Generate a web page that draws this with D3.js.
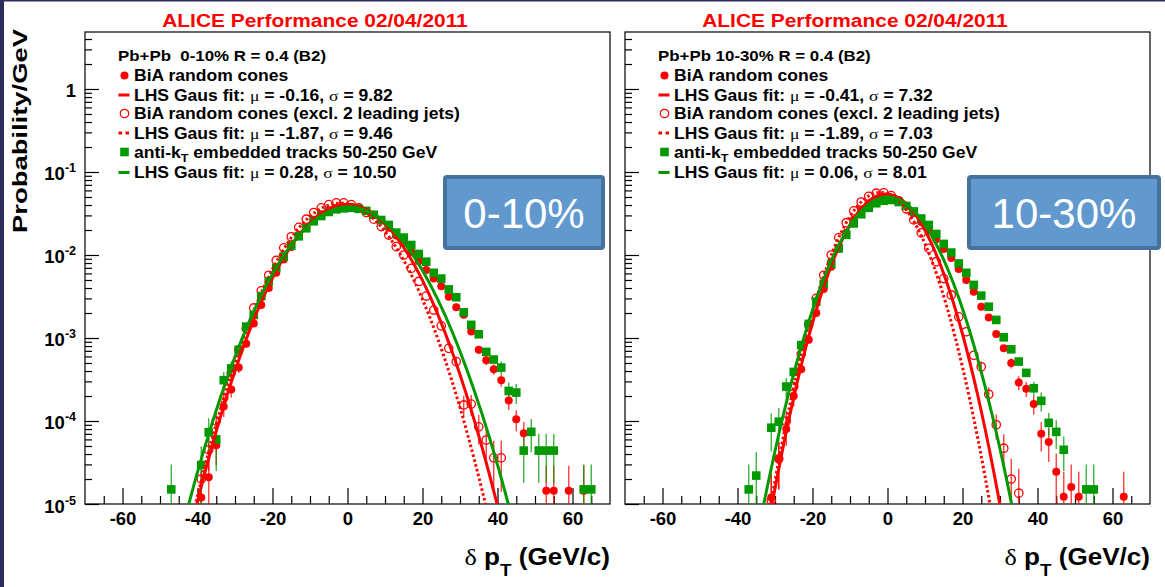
<!DOCTYPE html>
<html><head><meta charset="utf-8">
<script src="https://cdn.jsdelivr.net/npm/d3@7"></script>
<style>
body{margin:0;background:#fff;}
svg{display:block;}
text{font-family:"Liberation Sans",Arial,sans-serif;white-space:pre;}
</style>
</head><body>
<svg id="c" width="1165" height="587"></svg>
<script>
// ---------------- DATA ----------------
const bins = [-47,-45,-43,-41,-39,-37,-35,-33,-31,-29,-27,-25,-23,-21,-19,-17,-15,-13,-11,-9,-7,-5,-3,-1,1,3,5,7,9,11,13,15,17,19,21,23,25,27,29,31,33,35,37,39,41,43,45,47,49,51,53,55,57,59,61,63,65];

// 0-10% panel
const leftBiA  = [null,null,null,null,1.2e-5,2.1e-5,5.1e-5,1.5e-4,2.4e-4,4.4e-4,8.5e-4,1.5e-3,2.5e-3,4.0e-3,6.1e-3,8.8e-3,1.25e-2,1.68e-2,2.15e-2,2.65e-2,3.1e-2,3.45e-2,3.7e-2,3.8e-2,3.8e-2,3.65e-2,3.4e-2,3.05e-2,2.6e-2,2.15e-2,1.72e-2,1.38e-2,1.08e-2,8.4e-3,6.6e-3,5.2e-3,4.2e-3,3.15e-3,2.35e-3,1.9e-3,1.2e-3,7.2e-4,5.4e-4,4.2e-4,3.1e-4,1.76e-4,1.05e-4,7.1e-5,null,null,1.44e-5,1.44e-5,null,1.44e-5,null,1.44e-5,null];
const leftExcl = [null,null,null,null,2.0e-5,4.5e-5,1.0e-4,1.9e-4,3.8e-4,7.2e-4,1.3e-3,2.3e-3,3.7e-3,5.7e-3,8.6e-3,1.22e-2,1.66e-2,2.15e-2,2.7e-2,3.25e-2,3.7e-2,4.05e-2,4.25e-2,4.25e-2,4.05e-2,3.7e-2,3.25e-2,2.7e-2,2.2e-2,1.74e-2,1.26e-2,1.0e-2,6.9e-3,4.8e-3,3.2e-3,2.17e-3,1.4e-3,7.5e-4,5.2e-4,1.56e-4,1.6e-4,8.5e-5,5.9e-5,3.6e-5,3.6e-5,null,null,null,null,null,null,null,null,null,null,null,null];
const leftEmb  = [1.5e-5,null,null,null,2.95e-5,7.3e-5,6.0e-5,3.1e-4,4.3e-4,7.2e-4,1.37e-3,1.9e-3,3.2e-3,4.8e-3,7.0e-3,9.6e-3,1.3e-2,1.68e-2,2.1e-2,2.55e-2,2.95e-2,3.3e-2,3.55e-2,3.65e-2,3.7e-2,3.6e-2,3.4e-2,3.05e-2,2.64e-2,2.3e-2,1.86e-2,1.62e-2,1.32e-2,1.03e-2,8.3e-3,6.1e-3,5.2e-3,3.85e-3,3.1e-3,2.04e-3,1.44e-3,1.11e-3,6.8e-4,5.5e-4,4.4e-4,2.3e-4,2.2e-4,4.4e-5,7.4e-5,4.4e-5,4.4e-5,4.4e-5,null,null,null,1.5e-5,1.5e-5];
const leftBiAErr  = [[-39,1.2e-5],[-37,1.5e-5],[-35,2.2e-5],[-33,3.8e-5],[-31,4.8e-5],[-29,6e-5],[-27,8e-5],[33,1e-4],[35,8e-5],[37,7e-5],[39,6e-5],[41,5e-5],[43,4e-5],[45,3e-5],[47,2.6e-5],[53,1.44e-5],[55,1.44e-5],[59,1.44e-5],[63,1.44e-5]];
const leftExclErr = [[-39,1.4e-5],[-37,2e-5],[-35,3e-5],[-33,4.2e-5],[-31,6e-5],[29,7e-5],[31,4.5e-5],[33,4.5e-5],[35,3.3e-5],[37,2.8e-5],[39,2.2e-5],[41,2.2e-5]];
const leftEmbErr  = [[-47,1.5e-5],[-39,2e-5],[-37,3.5e-5],[-35,3.5e-5],[-33,8e-5],[-31,9e-5],[-29,1.1e-4],[41,8e-5],[43,6e-5],[45,6e-5],[47,2.6e-5],[49,3.2e-5],[51,2.6e-5],[53,2.6e-5],[55,2.6e-5],[63,1.5e-5],[65,1.5e-5]];

// 10-30% panel
const rightBiA  = [null,null,null,null,null,null,null,null,1.2e-5,3.5e-5,8.0e-5,2.0e-4,4.2e-4,9.5e-4,2.0e-3,3.9e-3,7.2e-3,1.2e-2,1.85e-2,2.65e-2,3.45e-2,4.15e-2,4.6e-2,4.8e-2,4.75e-2,4.45e-2,3.9e-2,3.2e-2,2.5e-2,1.95e-2,1.55e-2,1.18e-2,9.2e-3,6.8e-3,5.0e-3,3.6e-3,2.38e-3,1.77e-3,1.12e-3,7.5e-4,5.0e-4,2.9e-4,2.45e-4,1.6e-4,7.0e-5,5.6e-5,2.45e-5,1.22e-5,1.6e-5,1.22e-5,null,null,null,null,null,1.22e-5,null];
const rightExcl = [null,null,null,null,null,null,null,null,1.1e-5,3.5e-5,1.0e-4,2.6e-4,6.4e-4,1.45e-3,3.0e-3,5.7e-3,1.0e-2,1.62e-2,2.45e-2,3.4e-2,4.35e-2,5.1e-2,5.55e-2,5.6e-2,5.2e-2,4.5e-2,3.6e-2,2.65e-2,1.85e-2,1.2e-2,8.3e-3,5.2e-3,3.3e-3,1.8e-3,1.19e-3,6.2e-4,4.5e-4,2.1e-4,9.0e-5,4.7e-5,2.0e-5,1.35e-5,null,null,null,null,null,null,null,null,null,null,null,null,null,null,null];
const rightEmb  = [null,null,null,null,null,1.5e-5,2.2e-5,null,8.3e-5,9.8e-5,2.6e-4,3.9e-4,8.2e-4,1.48e-3,2.74e-3,4.5e-3,7.8e-3,1.2e-2,1.75e-2,2.4e-2,3.1e-2,3.7e-2,4.2e-2,4.5e-2,4.6e-2,4.35e-2,3.9e-2,3.35e-2,2.75e-2,2.3e-2,1.79e-2,1.36e-2,1.07e-2,7.9e-3,6.1e-3,4.36e-3,3.24e-3,2.38e-3,1.65e-3,1.02e-3,7.3e-4,5.2e-4,3.8e-4,2.48e-4,1.75e-4,9.5e-5,7.4e-5,4.5e-5,null,null,1.5e-5,1.5e-5,null,null,null,null,null];
const rightBiAErr  = [[-31,1.2e-5],[-29,2e-5],[-27,3e-5],[-25,5e-5],[33,7e-5],[35,5.5e-5],[37,5e-5],[39,4e-5],[41,2.7e-5],[43,2.4e-5],[45,1.6e-5],[47,1.22e-5],[49,1.4e-5],[51,1.22e-5],[63,1.22e-5]];
const rightExclErr = [[-31,1.1e-5],[-29,2e-5],[-27,3.3e-5],[25,7e-5],[27,4.5e-5],[29,3e-5],[31,2.2e-5],[33,1.5e-5],[35,1.3e-5]];
const rightEmbErr  = [[-37,1.5e-5],[-35,2e-5],[-31,4e-5],[-29,4.5e-5],[-27,7e-5],[39,5e-5],[41,4.5e-5],[43,3e-5],[45,2.8e-5],[47,2e-5],[53,1.5e-5],[55,1.5e-5]];

// fit curves
const fitX = [-44,-40,-36,-32,-28,-24,-20,-16,-12,-8,-4,0,4,8,12,16,20,24,28,32,36,40,44];
const leftFitBiA  = [1.9e-6,1.08e-5,5.2e-5,2.12e-4,7.3e-4,2.13e-3,5.27e-3,1.105e-2,1.963e-2,2.95e-2,3.76e-2,4.06e-2,3.71e-2,2.87e-2,1.886e-2,1.048e-2,4.94e-3,1.97e-3,6.65e-4,1.9e-4,4.6e-5,9.5e-6,1.65e-6];
const leftFitExcl = [2.1e-6,1.25e-5,6.3e-5,2.65e-4,9.3e-4,2.74e-3,6.73e-3,1.383e-2,2.378e-2,3.42e-2,4.11e-2,4.14e-2,3.48e-2,2.449e-2,1.44e-2,7.09e-3,2.92e-3,1.0e-3,2.89e-4,6.95e-5,1.4e-5,2.35e-6,3.3e-7];
const leftFitEmb  = [5.2e-6,2.42e-5,9.7e-5,3.37e-4,1.01e-3,2.62e-3,5.89e-3,1.143e-2,1.92e-2,2.786e-2,3.5e-2,3.8e-2,3.57e-2,2.9e-2,2.038e-2,1.24e-2,6.52e-3,2.96e-3,1.165e-3,3.96e-4,1.17e-4,2.97e-5,6.5e-6];
const rightFitBiA  = [1.1e-9,2.4e-8,4.0e-7,4.9e-6,4.48e-5,3.03e-4,1.52e-3,5.64e-3,1.556e-2,3.184e-2,4.83e-2,5.44e-2,4.55e-2,2.82e-2,1.295e-2,4.42e-3,1.117e-3,2.1e-4,2.92e-5,3.0e-6,2.3e-7,1.3e-8,5.5e-10];
const rightFitExcl = [9e-10,2.4e-8,4.4e-7,5.9e-6,5.74e-5,4.04e-4,2.06e-3,7.57e-3,2.02e-2,3.89e-2,5.43e-2,5.47e-2,3.996e-2,2.11e-2,8.06e-3,2.23e-3,4.45e-4,6.44e-5,6.7e-6,5.1e-7,2.8e-8,1.1e-9,3.2e-11];
const rightFitEmb  = [1.3e-8,1.8e-7,2.0e-6,1.65e-5,1.08e-4,5.47e-4,2.16e-3,6.67e-3,1.603e-2,3.0e-2,4.38e-2,4.98e-2,4.41e-2,3.05e-2,1.64e-2,6.87e-3,2.25e-3,5.72e-4,1.14e-4,1.75e-5,2.1e-6,2.0e-7,1.5e-8];

// axis ticks and texts
const xMajorTicks = [-60,-40,-20,0,20,40,60];
const xMinorTicks = [-65,-55,-50,-45,-35,-30,-25,-15,-10,-5,5,10,15,25,30,35,45,50,55,65];
const yDecades = [1,1e-1,1e-2,1e-3,1e-4,1e-5];
const yDecadeExp = ["", "-1","-2","-3","-4","-5"];
const yMinorMult = [2,3,4,5,6,7,8,9];
const titleText = "ALICE Performance 02/04/2011";
const leftLegend = ["Pb+Pb  0-10% R = 0.4 (B2)","BiA random cones","LHS Gaus fit: μ = -0.16, σ = 9.82","BiA random cones (excl. 2 leading jets)","LHS Gaus fit: μ = -1.87, σ = 9.46","anti-k_{T} embedded tracks 50-250 GeV","LHS Gaus fit: μ = 0.28, σ = 10.50"];
const rightLegend = ["Pb+Pb 10-30% R = 0.4 (B2)","BiA random cones","LHS Gaus fit: μ = -0.41, σ = 7.32","BiA random cones (excl. 2 leading jets)","LHS Gaus fit: μ = -1.89, σ = 7.03","anti-k_{T} embedded tracks 50-250 GeV","LHS Gaus fit: μ = 0.06, σ = 8.01"];
const centralityLabels = ["0-10%","10-30%"];
const yTitle = "Probability/GeV";
const xTitle = "δ p_{T} (GeV/c)";

// ---------------- DRAWING ----------------
const W = 1165, H = 587, YT = 32, YB = 504;
const RED = "#ff0000", GREEN = "#009900";
const SX = 1.125;
const svg = d3.select("#c");
svg.append("rect").attr("width", W).attr("height", H).attr("fill", "#fff");
svg.append("rect").attr("x", 0).attr("y", 0).attr("width", 4).attr("height", H).attr("fill", "#2c2f5e");
svg.append("rect").attr("x", 0).attr("y", 0).attr("width", W).attr("height", 1.5).attr("fill", "#2c2f5e");

function rich(sel, str, size, subShift) {
  const parts = str.split(/(_\{[^}]*\}|[μσδ])/).filter(s => s !== "");
  let pending = 0;
  parts.forEach(p => {
    if (p.startsWith("_{")) {
      sel.append("tspan").attr("font-size", size * 0.72).attr("dy", pending + subShift).text(p.slice(2, -1));
      pending = -subShift;
      return;
    }
    const t = sel.append("tspan").text(p);
    if (pending) { t.attr("dy", pending); pending = 0; }
    if ("μσδ".includes(p)) t.attr("font-family", "'Liberation Serif', serif").attr("font-weight", "normal");
  });
}

function stretchedText(g, x, y, anchor, size, sx) {
  return g.append("text").attr("transform", `translate(${x},${y}) scale(${sx},1)`)
    .attr("text-anchor", anchor).attr("font-size", size).attr("font-weight", "bold");
}

const panels = [
  {x0: 85, x1: 610, legend: leftLegend, label: centralityLabels[0], box: [445, 177, 158, 71], yLabels: true,
   series: [
     {vals: leftBiA, err: leftBiAErr, kind: "fcircle"},
     {vals: leftExcl, err: leftExclErr, kind: "ocircle"},
     {vals: leftEmb, err: leftEmbErr, kind: "square"}],
   fits: [{vals: leftFitBiA, color: RED, dash: null}, {vals: leftFitExcl, color: RED, dash: "2.5,2.5"}, {vals: leftFitEmb, color: GREEN, dash: null}]},
  {x0: 625, x1: 1150, legend: rightLegend, label: centralityLabels[1], box: [969, 177, 190, 71], yLabels: false,
   series: [
     {vals: rightBiA, err: rightBiAErr, kind: "fcircle"},
     {vals: rightExcl, err: rightExclErr, kind: "ocircle"},
     {vals: rightEmb, err: rightEmbErr, kind: "square"}],
   fits: [{vals: rightFitBiA, color: RED, dash: null}, {vals: rightFitExcl, color: RED, dash: "2.5,2.5"}, {vals: rightFitEmb, color: GREEN, dash: null}]}
];

function drawMarker(g, kind, cx, cy) {
  if (kind === "fcircle") g.append("circle").attr("cx", cx).attr("cy", cy).attr("r", 4).attr("fill", RED);
  else if (kind === "ocircle") g.append("circle").attr("cx", cx).attr("cy", cy).attr("r", 4.2).attr("fill", "none").attr("stroke", RED).attr("stroke-width", 1.3);
  else g.append("rect").attr("x", cx - 4.3).attr("y", cy - 4.3).attr("width", 8.6).attr("height", 8.6).attr("fill", GREEN);
}
const kindColor = {fcircle: RED, ocircle: RED, square: GREEN};

panels.forEach((P, pi) => {
  const x = d3.scaleLinear().domain([-70, 70]).range([P.x0, P.x1]);
  const y = d3.scaleLog().domain([1e-5, 4.86]).range([YB, YT]);
  const g = svg.append("g");
  const clipId = "clip" + pi;
  svg.append("clipPath").attr("id", clipId).append("rect")
    .attr("x", P.x0).attr("y", YT).attr("width", P.x1 - P.x0).attr("height", YB - YT);

  // title
  stretchedText(g, P.x0 + 230, 26.5, "middle", 19, 1.1).attr("fill", RED).text(titleText);

  // axes
  const gx = g.append("g").attr("transform", `translate(0,${YB})`)
    .call(d3.axisBottom(x).tickValues(xMajorTicks).tickSize(-16).tickPadding(8).tickFormat(d => String(d)));
  gx.select(".domain").remove();
  gx.attr("font-family", "'Liberation Sans',Arial,sans-serif").attr("font-size", 18.5).attr("font-weight", "bold");
  gx.selectAll("text").attr("fill", "#000");
  const gxm = g.append("g").attr("transform", `translate(0,${YB})`)
    .call(d3.axisBottom(x).tickValues(xMinorTicks).tickSize(-8).tickFormat(""));
  gxm.select(".domain").remove();

  const gy = g.append("g").attr("transform", `translate(${P.x0},0)`)
    .call(d3.axisLeft(y).tickValues(yDecades).tickSize(-14).tickFormat(""));
  gy.select(".domain").remove();
  const minors = [];
  yDecades.forEach(d => { yMinorMult.forEach(m => { if (d * m < 4.86) minors.push(d * m); }); });
  const gym = g.append("g").attr("transform", `translate(${P.x0},0)`)
    .call(d3.axisLeft(y).tickValues(minors).tickSize(-7).tickFormat(""));
  gym.select(".domain").remove();
  g.selectAll(".tick line").attr("stroke", "#000").attr("stroke-width", 1.2);

  if (P.yLabels) {
    yDecades.forEach((d, i) => {
      const t = g.append("text").attr("x", 76).attr("y", y(d) + 8.5).attr("text-anchor", "end")
        .attr("font-size", 18.5).attr("font-weight", "bold");
      if (yDecadeExp[i] === "") t.text("1");
      else {
        t.append("tspan").text("10");
        t.append("tspan").attr("font-size", 12.5).attr("dy", -8).text(yDecadeExp[i]);
      }
    });
    g.append("text").attr("transform", "translate(27,29) rotate(-90)").attr("text-anchor", "end")
      .attr("font-size", 20).attr("font-weight", "bold")
      .attr("textLength", 204).attr("lengthAdjust", "spacingAndGlyphs").text(yTitle);
  }

  // x title
  const xt = g.append("text").attr("transform", `translate(${P.x1},565) scale(1.11,1)`).attr("text-anchor", "end")
    .attr("font-size", 23.5).attr("font-weight", "bold");
  rich(xt, xTitle, 23.5, 11);

  // frame
  g.append("rect").attr("x", P.x0).attr("y", YT).attr("width", P.x1 - P.x0).attr("height", YB - YT)
    .attr("fill", "none").attr("stroke", "#000").attr("stroke-width", 1.2);

  // data
  const dg = g.append("g").attr("clip-path", `url(#${clipId})`);
  P.series.forEach(S => {
    const col = kindColor[S.kind];
    S.err.forEach(([b, e]) => {
      const v = S.vals[bins.indexOf(b)];
      if (v == null) return;
      const lo = v - e > 1e-6 ? y(v - e) : YB + 2;
      dg.append("line").attr("x1", x(b)).attr("x2", x(b)).attr("y1", y(v + e)).attr("y2", lo)
        .attr("stroke", col).attr("stroke-width", 1.4).attr("opacity", 0.75);
    });
  });
  P.series.forEach(S => {
    bins.forEach((b, i) => {
      const v = S.vals[i];
      if (v == null) return;
      drawMarker(dg, S.kind, x(b), y(v));
    });
  });
  // fits
  const line = d3.line().x((d, i) => x(fitX[i])).y(d => y(d)).curve(d3.curveNatural);
  P.fits.forEach(F => {
    dg.append("path").attr("d", line(F.vals)).attr("fill", "none").attr("stroke", F.color)
      .attr("stroke-width", 3).attr("stroke-dasharray", F.dash);
  });

  // legend
  const lx = P.x0 + 39.5, tx = P.x0 + 49;
  const rows = [55, 75.5, 95, 113.5, 133, 152, 172.5];
  P.legend.forEach((s, i) => {
    const px = i === 0 ? P.x0 + 33 : tx;
    const fs = i === 0 ? 15 : 15.6;
    const t = g.append("text").attr("x", px).attr("y", rows[i] + 5.6)
      .attr("font-size", fs).attr("font-weight", "bold")
      .attr("transform", `translate(${px * (1 - SX)},0) scale(${SX},1)`);
    rich(t, s, fs, 4);
  });
  const lg = g.append("g");
  drawMarker(lg, "fcircle", lx, rows[1]);
  lg.append("line").attr("x1", lx - 6).attr("x2", lx + 5).attr("y1", rows[2]).attr("y2", rows[2]).attr("stroke", RED).attr("stroke-width", 3);
  drawMarker(lg, "ocircle", lx, rows[3]);
  lg.append("line").attr("x1", lx - 6).attr("x2", lx + 5).attr("y1", rows[4]).attr("y2", rows[4]).attr("stroke", RED).attr("stroke-width", 3).attr("stroke-dasharray", "3.5,3.5");
  drawMarker(lg, "square", lx, rows[5]);
  lg.append("line").attr("x1", lx - 6).attr("x2", lx + 5).attr("y1", rows[6]).attr("y2", rows[6]).attr("stroke", GREEN).attr("stroke-width", 3);
});

// centrality boxes
panels.forEach(P => {
  const [bx, by, bw, bh] = P.box;
  svg.append("rect").attr("x", bx).attr("y", by).attr("width", bw).attr("height", bh).attr("rx", 2)
    .attr("fill", "#6199cf").attr("stroke", "#46729f").attr("stroke-width", 4);
  svg.append("text").attr("x", bx + bw / 2).attr("y", by + bh / 2 + 15).attr("text-anchor", "middle")
    .attr("font-family", "Lato, 'Open Sans', sans-serif").attr("font-size", 42).attr("fill", "#fff").text(P.label);
});
</script>
</body></html>
